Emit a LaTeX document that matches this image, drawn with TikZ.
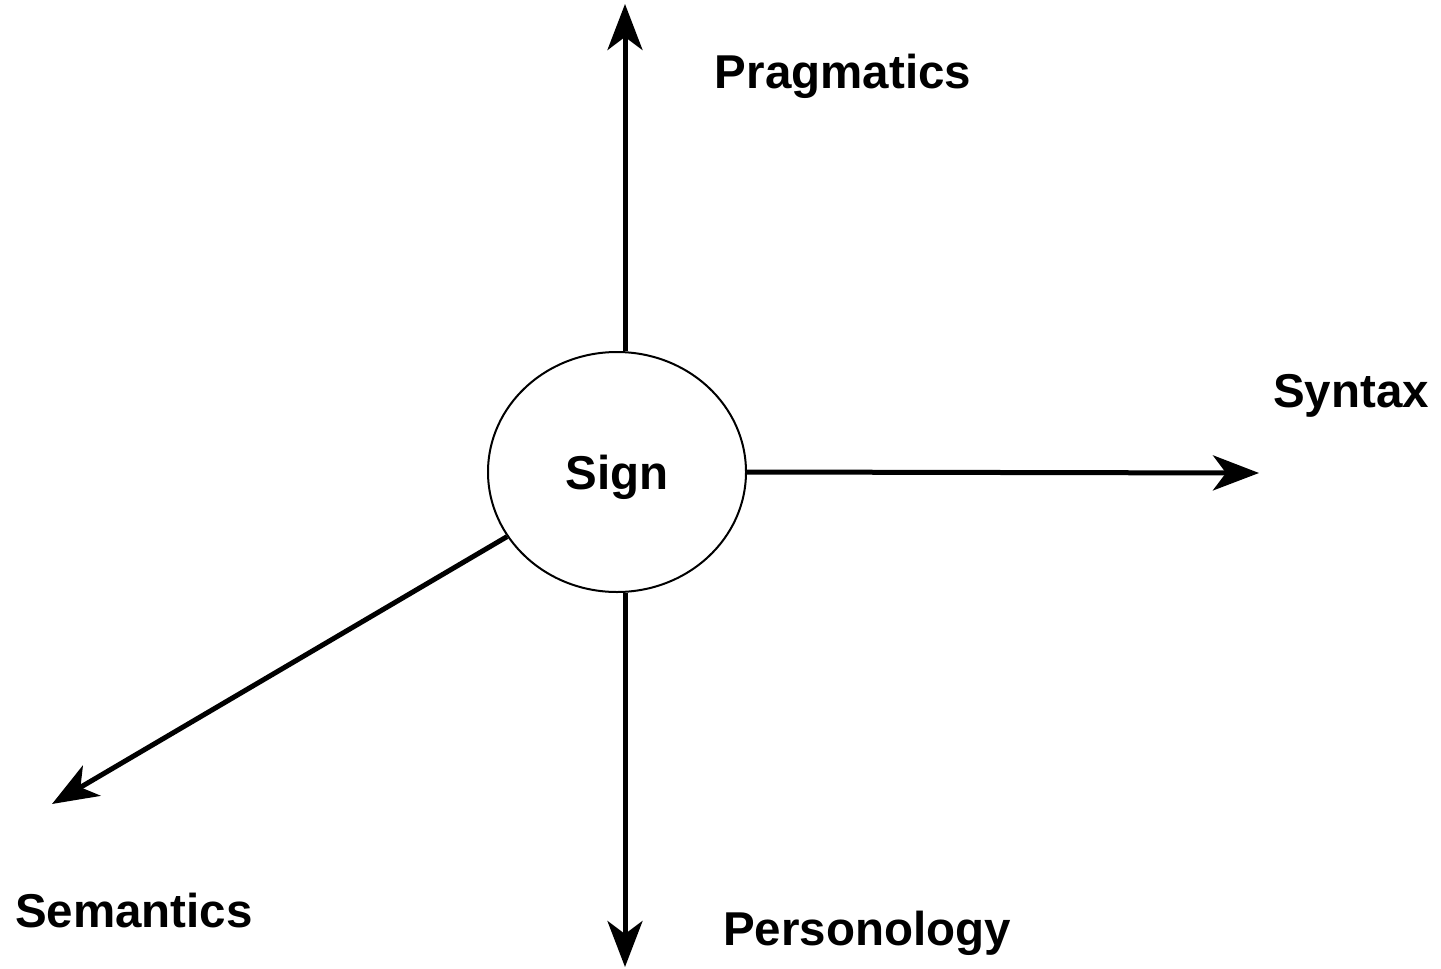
\documentclass[tikz,border=0pt]{standalone}
\usepackage{fontspec}
\setmainfont{Liberation Sans}
\usetikzlibrary{arrows.meta,shapes.geometric}

\begin{document}
\begin{tikzpicture}[x=1pt, y=-1pt,
		axis/.style={line width=5pt, -{Stealth[length=46pt, width=35pt, inset=13pt]}},
		lbl/.style={font=\fontsize{47.5}{57}\selectfont\bfseries, anchor=base, inner sep=0pt}]
				\useasboundingbox (0,0) rectangle (1441,969);
				\node[draw, ellipse, line width=2pt, minimum width=258pt,
				minimum height=240pt, text depth=0pt,
				font=\fontsize{47.5}{57}\selectfont\bfseries] (sign) at (617,472) {Sign};
				\coordinate (pragtip) at (625,4);
				\coordinate (perstip) at (625,967);
				\coordinate (syntip) at (1259,473);
				\coordinate (semtip) at (52,804);
				\draw[axis] (sign.north -| pragtip) -- (pragtip);
				\draw[axis] (sign.south -| perstip) -- (perstip);
				\draw[axis] (sign.east) -- (syntip);
				\draw[axis] (sign) -- (semtip);
				\node[lbl] (prag) at (843,88) {Pragmatics};
				\node[lbl] (syn) at (1351,407) {Syntax};
				\node[lbl] (sem) at (134,927) {Semantics};
				\node[lbl] (pers) at (867,945) {Personology};
			\end{tikzpicture}
\end{document}
